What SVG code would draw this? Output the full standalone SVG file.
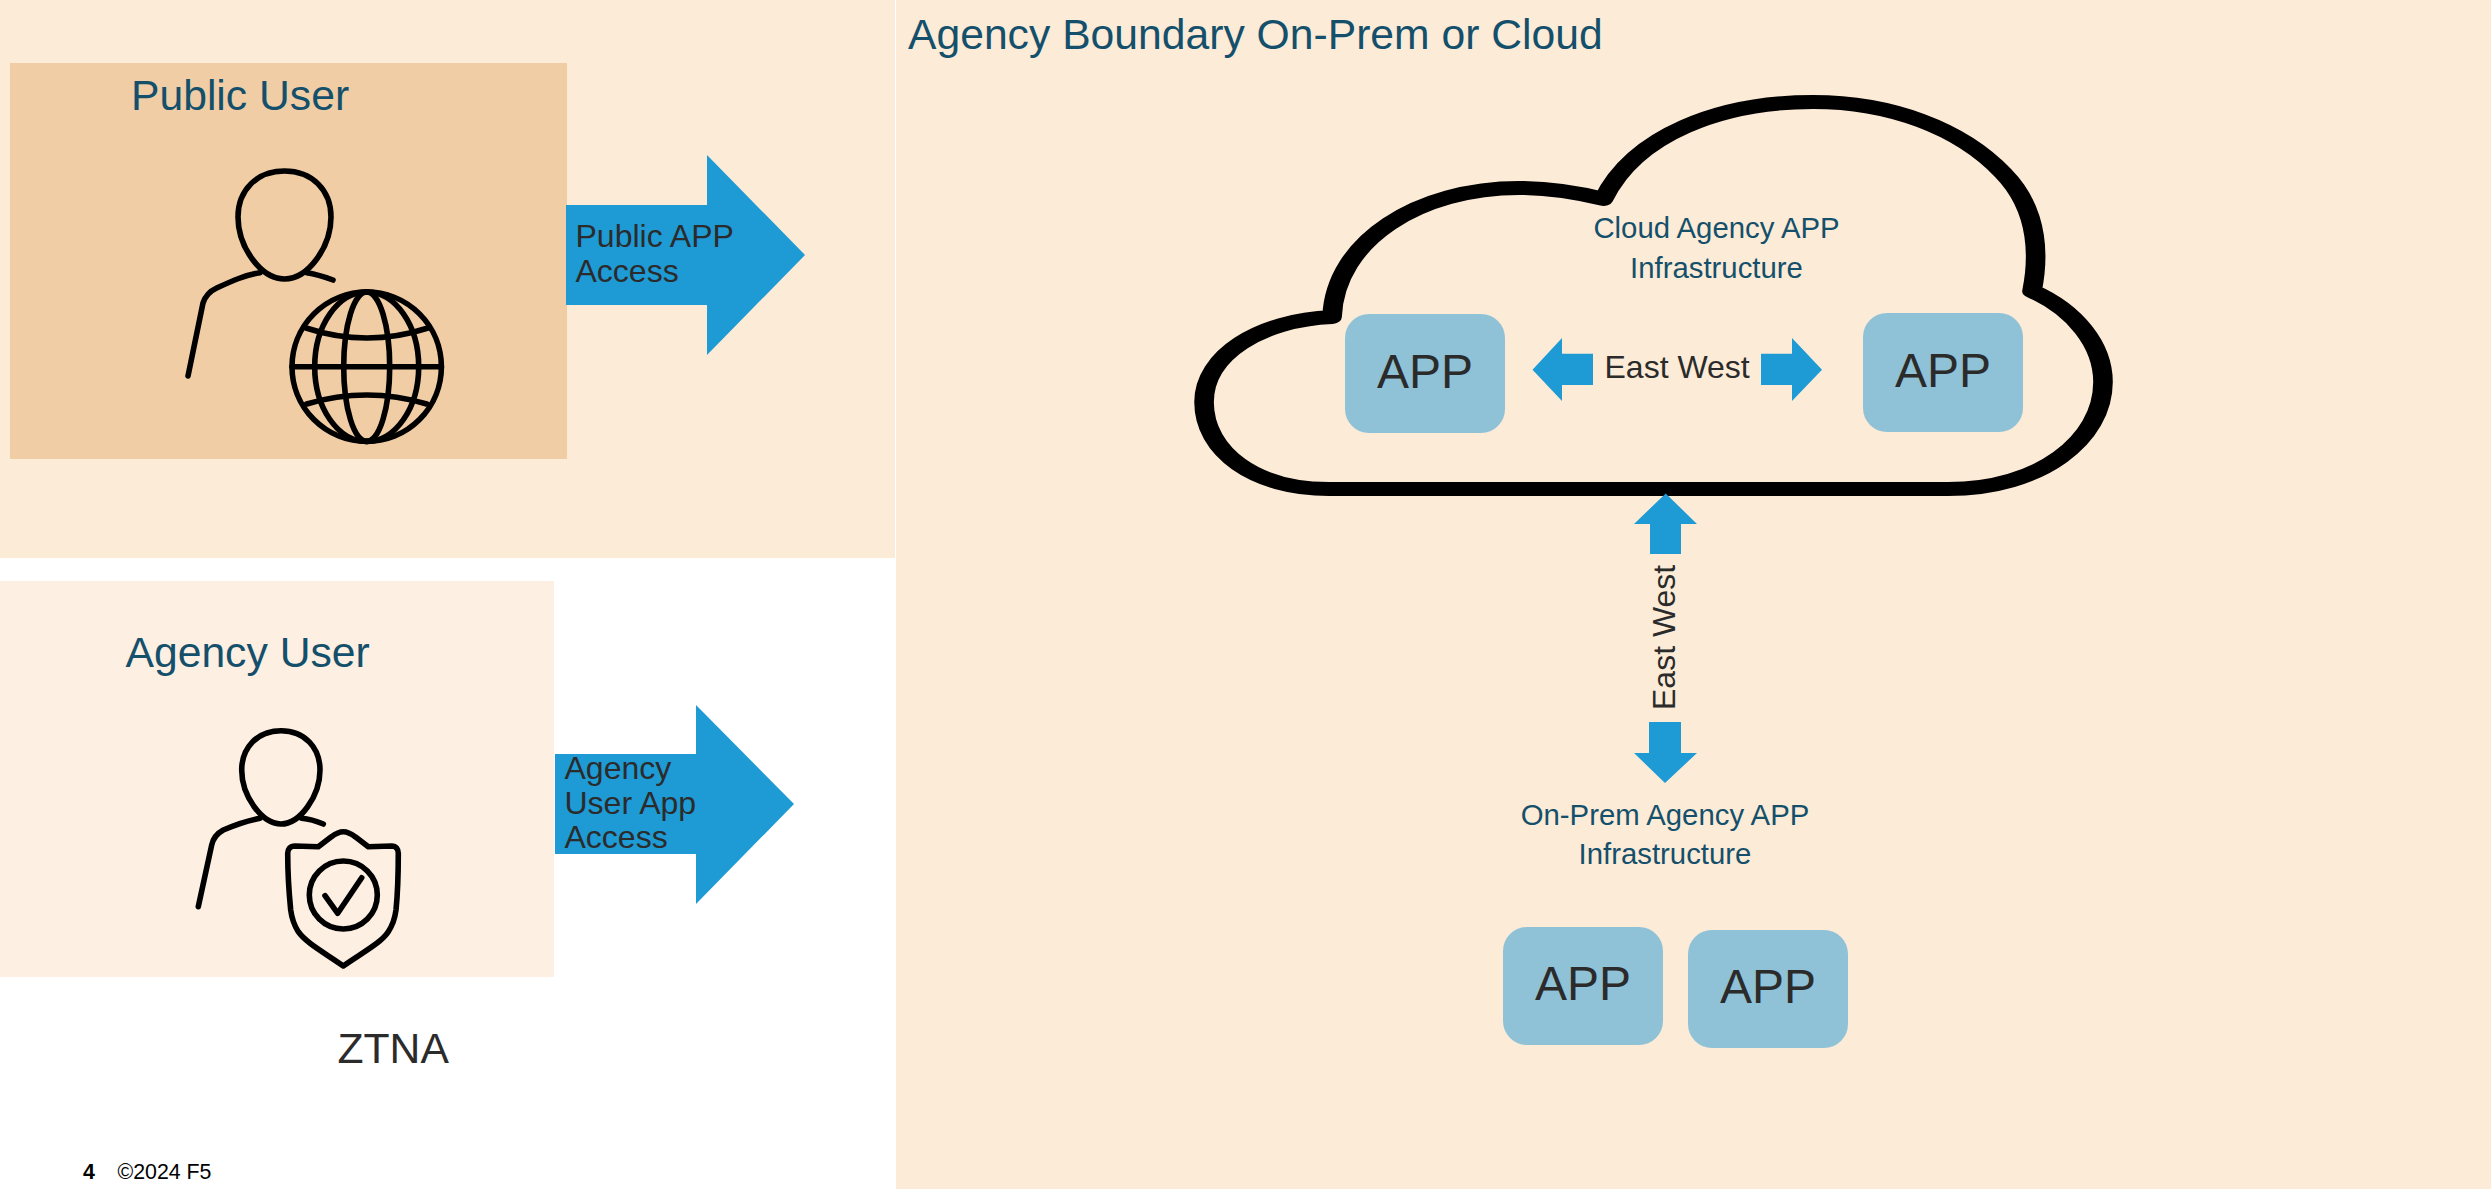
<svg xmlns="http://www.w3.org/2000/svg" width="2491" height="1189" viewBox="0 0 2491 1189">
<style>
text{font-family:"Liberation Sans",Arial,sans-serif}
.t{fill:#14506b}
.d{fill:#2b2b2b}
.a{fill:#1e9ad5}
.box{fill:#8fc2d6}
.i{fill:none;stroke:#000;stroke-width:5.6;stroke-linecap:round;stroke-linejoin:round}
</style>
<rect width="2491" height="1189" fill="#fff"/>
<rect id="public-zone" x="0" y="0" width="895" height="558" fill="#fcebd7"/>
<g id="agency-boundary">
<rect x="896" y="0" width="1595" height="1189" fill="#fcebd7"/>
<text class="t" x="908" y="49" font-size="42.67">Agency Boundary On-Prem or Cloud</text>
</g>
<g id="public-user">
<rect x="10" y="63" width="557" height="396" fill="#f0cda5"/>
<text class="t" x="131" y="109.5" font-size="42.67">Public User</text>
<g class="i">
<path d="M284.5,171C312,171 331,190 331,217C331,247 308,279 284.5,279C261,279 238,247 238,217C238,190 257,171 284.5,171Z"/>
<path d="M260,272.7C245,275 232,281 216.7,288C208,292 205,297 203,303L188,376"/>
<path d="M306.7,272.7C316,274 325,277 333,280"/>
<circle cx="366.7" cy="366.7" r="74.7"/>
<ellipse cx="366.7" cy="366.7" rx="23" ry="74.7"/>
<ellipse cx="366.7" cy="366.7" rx="52" ry="74.7"/>
<path d="M292,366.7H441.4M306,328Q366.7,348 428,328M306.7,404Q366.7,386 426.7,404"/>
</g>
</g>
<g id="agency-user">
<rect x="0" y="581" width="554" height="396" fill="#fdefe2"/>
<text class="t" x="125.5" y="667" font-size="42.67">Agency User</text>
<g class="i">
<path d="M281,730.7C305,730.7 320,748 320,770C320,796 300,824 281,824C262,824 241.7,796 241.7,770C241.7,748 257,730.7 281,730.7Z"/>
<path d="M260,818.3C245,821 235,825 223.3,830C216,834 213,839 211.7,845L198.3,906.7"/>
<path d="M301.7,818.3C309,819 316,821 323.3,824"/>
<path d="M343.3,831.7C338,831.7 335,834 331,837L318.3,846.7L295,846C290,846 287.7,849 287.7,853.3C287.7,875 289,893 290.7,910C292,920 294,925 298.3,931.7C306,943 325,953 343.3,966C361.7,953 381,943 388.3,931.7C392.7,925 394.7,920 396,910C397.7,893 398.3,875 398.3,853.3C398.3,849 396,846 391.7,846L368.3,846.7L355.6,837C351.6,834 348.6,831.7 343.3,831.7Z"/>
<circle cx="343.3" cy="895" r="34"/>
<path d="M325,895.7L337.7,913.3L361.7,877.7"/>
</g>
</g>
<g id="cloud">
<path transform="translate(1193,0) scale(1.4,1)" d="M99.3,317C47.9,320 7.9,355 7.9,402C7.9,452 44.3,489 97.1,489L539.3,489C605,489 650,440 650,382C650,345 630,310 599.3,291C603.5,262 606,212 578.6,173C548,128 497.9,102 442.9,102C376.4,102 315.7,135 293.2,199C272.9,192 255,188 232.9,188C162.1,188 101.4,240 99.3,317Z" fill="none" stroke="#000" stroke-width="14" stroke-linejoin="round"/>
<text class="t" x="1716.5" y="238" font-size="29.33" text-anchor="middle">Cloud Agency APP</text>
<text class="t" x="1716.5" y="278" font-size="29.33" text-anchor="middle">Infrastructure</text>
</g>
<g id="app-cloud-1"><rect class="box" x="1345" y="314" width="160" height="119" rx="24"/><text class="d" x="1425" y="388" font-size="48" text-anchor="middle">APP</text></g>
<g id="app-cloud-2"><rect class="box" x="1863" y="313" width="160" height="119" rx="24"/><text class="d" x="1943" y="387" font-size="48" text-anchor="middle">APP</text></g>
<g id="app-prem-1"><rect class="box" x="1503" y="927" width="160" height="118" rx="24"/><text class="d" x="1583" y="1000" font-size="48" text-anchor="middle">APP</text></g>
<g id="app-prem-2"><rect class="box" x="1688" y="930" width="160" height="118" rx="24"/><text class="d" x="1768" y="1003" font-size="48" text-anchor="middle">APP</text></g>
<g id="prem-label">
<text class="t" x="1665" y="825" font-size="29.33" text-anchor="middle">On-Prem Agency APP</text>
<text class="t" x="1665" y="864" font-size="29.33" text-anchor="middle">Infrastructure</text>
</g>
<g id="connectors">
<path class="a" d="M566,205H707V155L805,255L707,355V305H566Z"/>
<path class="a" d="M555,754H696V705L794,804L696,904V854H555Z"/>
<path class="a" d="M1532.5,369.7L1562,338V353.7H1593V385H1562V401Z"/>
<path class="a" d="M1822,369.7L1792,338V353.7H1761V385H1792V401Z"/>
<path class="a" d="M1665.7,493.4L1697,524H1681V554H1650V524H1634Z"/>
<path class="a" d="M1665,783L1697,753H1681V722H1649V753H1634Z"/>
<text class="d" font-size="32" x="575.5" y="247">Public APP</text>
<text class="d" font-size="32" x="575.5" y="282">Access</text>
<text class="d" font-size="32" x="564.5" y="779">Agency</text>
<text class="d" font-size="32" x="564.5" y="813.5">User App</text>
<text class="d" font-size="32" x="564.5" y="848">Access</text>
<text class="d" font-size="32" x="1604.5" y="378">East West</text>
<text class="d" font-size="32" transform="translate(1675,710) rotate(-90)">East West</text>
</g>
<g id="footer">
<text class="d" x="337.5" y="1063" font-size="42.67">ZTNA</text>
<text x="83" y="1179" font-size="21.33" font-weight="bold" fill="#000">4</text>
<text x="117.5" y="1179" font-size="21.33" fill="#000">©2024 F5</text>
</g>
</svg>
